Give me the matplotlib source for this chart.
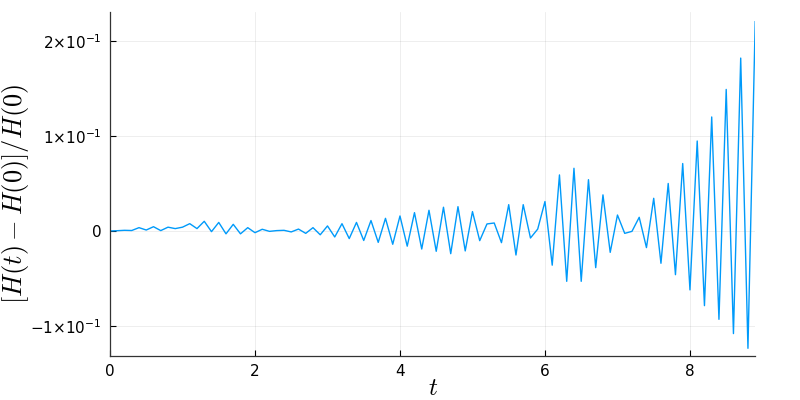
import matplotlib
matplotlib.use("Agg")
import matplotlib.pyplot as plt
from matplotlib.ticker import FixedLocator, FuncFormatter

t = [0.0, 0.1, 0.2, 0.3, 0.4, 0.5, 0.6, 0.7, 0.8, 0.9,
     1.0, 1.1, 1.2, 1.3, 1.4, 1.5, 1.6, 1.7, 1.8, 1.9,
     2.0, 2.1, 2.2, 2.3, 2.4, 2.5, 2.6, 2.7, 2.8, 2.9,
     3.0, 3.1, 3.2, 3.3, 3.4, 3.5, 3.6, 3.7, 3.8, 3.9,
     4.0, 4.1, 4.2, 4.3, 4.4, 4.5, 4.6, 4.7, 4.8, 4.9,
     5.0, 5.1, 5.2, 5.3, 5.4, 5.5, 5.6, 5.7, 5.8, 5.9,
     6.0, 6.1, 6.2, 6.3, 6.4, 6.5, 6.6, 6.7, 6.8, 6.9,
     7.0, 7.1, 7.2, 7.3, 7.4, 7.5, 7.6, 7.7, 7.8, 7.9,
     8.0, 8.1, 8.2, 8.3, 8.4, 8.5, 8.6, 8.7, 8.8, 8.9]

rel_err = [0.0, 0.0003, 0.0007, 0.0005, 0.0035, 0.001, 0.0045, 0.0004, 0.004, 0.0025,
           0.004, 0.0077, 0.0025, 0.0102, -0.0007, 0.009, -0.003, 0.007, -0.003, 0.0035,
           -0.0018, 0.0018, -0.0004, 0.0004, 0.0007, -0.001, 0.002, -0.0025, 0.0035, -0.004,
           0.0053, -0.0063, 0.0077, -0.008, 0.009, -0.010, 0.011, -0.012, 0.0133, -0.014,
           0.0158, -0.016, 0.0193, -0.019, 0.0218, -0.0214, 0.025, -0.0239, 0.0256, -0.021,
           0.0204, -0.0102, 0.0074, 0.0084, -0.0123, 0.0277, -0.0253, 0.0277, -0.0074, 0.002,
           0.031, -0.036, 0.059, -0.053, 0.066, -0.053, 0.054, -0.0386, 0.038, -0.0225,
           0.0168, -0.0025, -0.0004, 0.0144, -0.0175, 0.0344, -0.034, 0.050, -0.046, 0.071,
           -0.062, 0.0947, -0.0786, 0.120, -0.093, 0.149, -0.108, 0.182, -0.1235, 0.2203]

xticks = [0, 2, 4, 6, 8]
yticks = [-0.1, 0.0, 0.1, 0.2]

fig = plt.figure(figsize=(8, 4), dpi=100)
ax = fig.add_axes([0.1375, 0.11, 0.944 - 0.1375, 0.97 - 0.11])

ax.plot(t, rel_err, color="#009AFA", linewidth=1.0)

ax.set_xlim(0, 8.9)
ax.set_ylim(-0.1316, 0.2305)

ax.xaxis.set_major_locator(FixedLocator(xticks))
ax.yaxis.set_major_locator(FixedLocator(yticks))


def yfmt(v, pos):
    if abs(v) < 1e-12:
        return "0"
    m = abs(round(v * 10))
    sign = "−" if v < 0 else ""
    return sign + "%d×10$^{-1}$" % m


ax.yaxis.set_major_formatter(FuncFormatter(yfmt))
ax.xaxis.set_major_formatter(FuncFormatter(lambda v, p: "%d" % v))

ax.tick_params(axis="both", direction="in", length=4, width=0.8, colors="black", labelsize=11, pad=6)
for lab in ax.get_yticklabels():
    lab.set_math_fontfamily("dejavusans")

ax.grid(True, color="black", alpha=0.08, linewidth=0.6)
ax.set_axisbelow(True)
for side in ("top", "right"):
    ax.spines[side].set_visible(False)
for side in ("left", "bottom"):
    ax.spines[side].set_color("#333333")
    ax.spines[side].set_linewidth(0.9)

ax.set_xlabel(r"$t$", fontsize=18, math_fontfamily="cm")
ax.set_ylabel(r"$\left[H(t) - H(0)\right]/H(0)$", fontsize=19, math_fontfamily="cm")
ax.xaxis.set_label_coords(0.5, -0.058)
ax.yaxis.set_label_coords(-0.122, 0.47)

fig.savefig("out.png", dpi=100)
